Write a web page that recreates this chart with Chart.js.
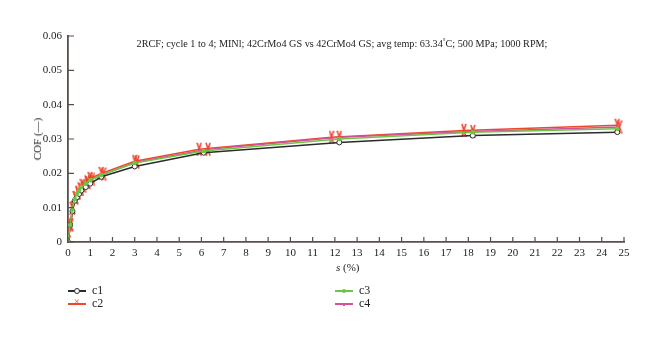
<!DOCTYPE html>
<html>
<head>
<meta charset="utf-8">
<script src="https://cdn.jsdelivr.net/npm/chart.js@4.4.0/dist/chart.umd.min.js"></script>
<style>
  body { margin: 0; background: #fff; }
  #wrap { position: relative; width: 660px; height: 337px; font-family: "Liberation Serif", serif; color: #222; }
  #chart { position: absolute; left: 0; top: 0; }
  .txt { position: absolute; font-size: 10.2px; white-space: nowrap; }
  #title { left: 0; width: 684px; top: 37px; text-align: center; }
  #ytitle { left: 37px; top: 139px; font-size: 11px; transform: translate(-50%, -50%) rotate(-90deg); }
  #xtitle { left: 336px; top: 261px; font-size: 11px; }
  .leg { position: absolute; font-size: 12px; height: 12px; }
  .leg .ln { position: absolute; left: 0; top: 6px; width: 18px; height: 1.5px; }
  .leg .mk { position: absolute; }
  .leg .lab { position: absolute; left: 24px; top: -1px; }
</style>
</head>
<body>
<div id="wrap">
  <canvas id="chart" width="660" height="337"></canvas>
  <div class="txt" id="title">2RCF; cycle 1 to 4; MINl; 42CrMo4 GS vs 42CrMo4 GS; avg temp: 63.34<sup style="font-size:7px">°</sup>C; 500 MPa; 1000 RPM;</div>
  <div class="txt" id="ytitle">COF (—)</div>
  <div class="txt" id="xtitle"><i>s</i> (%)</div>
  <div id="legend"></div>
</div>
<script>
const seriesNames = ["c1", "c2", "c3", "c4"];
const seriesColors = ["#2b2b2b", "#f0462e", "#6cc644", "#d4509c"];

const xC1 = [0, 0.1, 0.2, 0.3, 0.4, 0.5, 0.6, 0.8, 1.0, 1.5, 3.0, 6.1, 12.2, 18.2, 24.7];
const xC2 = [0, 0.12, 0.22, 0.33, 0.45, 0.55, 0.65, 0.85, 1.0, 1.5, 3.0, 5.9, 11.85, 17.8, 24.7];
const xC3 = [0, 0.1, 0.2, 0.3, 0.4, 0.5, 0.6, 0.8, 1.0, 1.5, 3.0, 6.1, 12.2, 18.2, 24.7];
const xC4 = [0, 0.1, 0.2, 0.35, 0.45, 0.6, 0.7, 0.9, 1.1, 1.6, 3.1, 6.3, 12.2, 18.2, 24.8];

const cofC1 = [0, 0.005, 0.009, 0.012, 0.013, 0.014, 0.015, 0.016, 0.017, 0.019, 0.022, 0.026, 0.029, 0.031, 0.032];
const cofC2 = [0, 0.005, 0.010, 0.013, 0.0145, 0.0155, 0.0165, 0.0175, 0.0185, 0.020, 0.0235, 0.027, 0.0305, 0.0325, 0.034];
const cofC3 = [0, 0.005, 0.0095, 0.0125, 0.014, 0.015, 0.016, 0.017, 0.018, 0.0195, 0.023, 0.0265, 0.030, 0.032, 0.033];
const cofC4 = [0, 0.005, 0.0098, 0.0128, 0.0142, 0.0153, 0.0163, 0.0173, 0.0183, 0.0198, 0.0233, 0.027, 0.0305, 0.0322, 0.0335];

const xTicks = Array.from({ length: 26 }, (_, i) => i);
const yTicks = [0, 0.01, 0.02, 0.03, 0.04, 0.05, 0.06];

const axisColor = "#5b4d48";

// tall narrow red cross used as marker
function tallCross(color) {
  const c = document.createElement("canvas");
  c.width = 6; c.height = 15;
  const g = c.getContext("2d");
  g.strokeStyle = color;
  g.lineWidth = 1.6;
  g.beginPath();
  g.moveTo(1, 1); g.lineTo(5, 14);
  g.moveTo(5, 1); g.lineTo(1, 14);
  g.stroke();
  return c;
}
const redCross = tallCross("#f0462e");

function pts(xs, ys) {
  return xs.map((x, i) => ({ x: x, y: ys[i] }));
}

const datasets = [
  { label: "c3", data: pts(xC3, cofC3), borderColor: seriesColors[2], backgroundColor: seriesColors[2],
    pointRadius: 1.5, pointStyle: "circle" },
  { label: "c1", data: pts(xC1, cofC1), borderColor: seriesColors[0], backgroundColor: "#fff",
    pointRadius: 2.5, pointStyle: "circle", pointBorderWidth: 1 },
  { label: "c4", data: pts(xC4, cofC4), borderColor: seriesColors[3], backgroundColor: seriesColors[3],
    pointStyle: redCross },
  { label: "c2", data: pts(xC2, cofC2), borderColor: seriesColors[1], backgroundColor: seriesColors[1],
    pointStyle: redCross }
];
datasets.forEach(d => { d.borderWidth = 1.5; d.tension = 0; d.fill = false; });

// ticks pointing into the plot
const innerTicks = {
  id: "innerTicks",
  afterDraw(chart) {
    const c = chart.ctx, a = chart.chartArea;
    const xs = chart.scales.x, ys = chart.scales.y;
    c.save();
    c.strokeStyle = axisColor;
    c.lineWidth = 1.2;
    c.beginPath();
    xTicks.forEach(t => {
      const px = xs.getPixelForValue(t);
      c.moveTo(px, a.bottom); c.lineTo(px, a.bottom - 5);
    });
    yTicks.forEach(t => {
      const py = ys.getPixelForValue(t);
      c.moveTo(a.left, py); c.lineTo(a.left + 6, py);
    });
    c.stroke();
    c.restore();
  }
};

const tickFont = { family: "Liberation Serif", size: 11 };

new Chart(document.getElementById("chart"), {
  type: "line",
  data: { datasets: datasets },
  options: {
    responsive: false,
    animation: false,
    layout: { padding: { left: 0, top: 36, right: 36, bottom: 0 } },
    plugins: { legend: { display: false }, tooltip: { enabled: false } },
    scales: {
      x: {
        type: "linear", min: 0, max: 25,
        afterFit: s => { s.height = 95; },
        afterBuildTicks: s => { s.ticks = xTicks.map(v => ({ value: v })); },
        border: { display: true, color: axisColor, width: 1.8 },
        grid: { drawOnChartArea: false, drawTicks: false },
        ticks: { color: "#222", font: tickFont, padding: 5, maxRotation: 0, autoSkip: false }
      },
      y: {
        min: 0, max: 0.06,
        afterFit: s => { s.width = 68; },
        afterBuildTicks: s => { s.ticks = yTicks.map(v => ({ value: v })); },
        border: { display: true, color: axisColor, width: 1.8 },
        grid: { drawOnChartArea: false, drawTicks: false },
        ticks: { color: "#222", font: tickFont, padding: 6,
          callback: v => v === 0 ? "0" : v.toFixed(2) }
      }
    }
  },
  plugins: [innerTicks]
});

// legend below the plot
const legendPos = [[68, 284], [68, 297], [335, 284], [335, 297]];
const legendEl = document.getElementById("legend");
seriesNames.forEach((name, i) => {
  const d = document.createElement("div");
  d.className = "leg";
  d.style.left = legendPos[i][0] + "px";
  d.style.top = legendPos[i][1] + "px";
  let mk = "";
  if (i === 0) mk = '<span class="mk" style="left:6px;top:4px;width:4px;height:4px;border:1px solid #2b2b2b;border-radius:50%;background:#fff"></span>';
  if (i === 1) mk = '<span class="mk" style="left:6px;top:-1px;font-size:10px;color:#f0462e">×</span>';
  if (i === 2) mk = '<span class="mk" style="left:7px;top:5px;width:4px;height:4px;border-radius:50%;background:#6cc644"></span>';
  if (i === 3) mk = '<span class="mk" style="left:8px;top:5.5px;width:2px;height:3px;background:#d4509c"></span>';
  d.innerHTML = '<span class="ln" style="background:' + seriesColors[i] + '"></span>' + mk +
    '<span class="lab">' + name + '</span>';
  legendEl.appendChild(d);
});
</script>
</body>
</html>
